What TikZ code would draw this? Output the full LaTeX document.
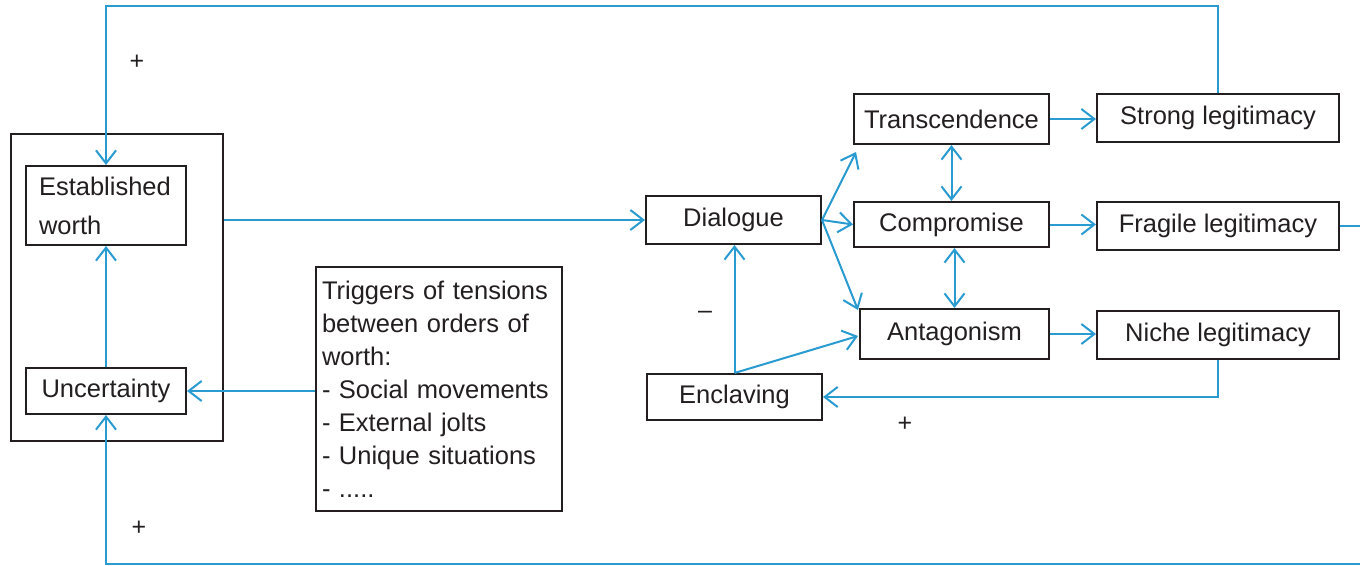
\documentclass[tikz,border=0pt]{standalone}
\usepackage{fontspec}
\setmainfont{Liberation Sans}
\usetikzlibrary{arrows.meta}
\definecolor{lineblue}{HTML}{2A9BD1}
\definecolor{ink}{HTML}{231F20}
\begin{document}
\begin{tikzpicture}[x=1pt,y=-1pt,
  box/.style={draw=ink,line width=2pt,text=ink,font=\fontsize{25.5}{33}\selectfont,inner sep=0pt,anchor=center},
  arr/.style={draw=lineblue,line width=2pt,-{Straight Barb[length=13pt,width=20pt]}},
  darr/.style={draw=lineblue,line width=2pt,{Straight Barb[length=13pt,width=20pt]}-{Straight Barb[length=13pt,width=20pt]}},
  plain/.style={draw=lineblue,line width=2pt},
  sign/.style={text=ink,font=\fontsize{25}{30}\selectfont,inner sep=0pt}]
\useasboundingbox (0,0) rectangle (1360,565);
\fill[white] (0,0) rectangle (1360,565);
% nodes
\node[box,minimum width=212pt,minimum height=307pt] (outer) at (117,287.5) {};
\node[box,minimum width=160pt,minimum height=79pt,text width=134pt,inner xsep=13pt,align=left,font=\fontsize{25.5}{39}\selectfont] (est) at (106,205.5) {\hyphenpenalty=10000 Established\\worth};
\node[box,minimum width=160pt,minimum height=46pt] (unc) at (106,391) {Uncertainty};
\node[box,minimum width=246pt,minimum height=244pt,text width=234pt,inner xsep=6pt,align=left] (trig) at (439,389) {\hyphenpenalty=10000 Triggers of tensions\\between orders of\\worth:\\- Social movements\\- External jolts\\- Unique situations\\- .....};
\node[box,minimum width=175pt,minimum height=48pt] (dia) at (733.5,220) {Dialogue};
\node[box,minimum width=175pt,minimum height=46pt] (enc) at (734.5,397) {Enclaving};
\node[box,minimum width=195pt,minimum height=50pt] (tra) at (951.5,119) {Transcendence};
\node[box,minimum width=195pt,minimum height=45pt] (com) at (951.5,224.5) {Compromise};
\node[box,minimum width=189pt,minimum height=50pt] (ant) at (954.5,334) {Antagonism};
\node[box,minimum width=242pt,minimum height=48pt] (str) at (1218,118) {Strong legitimacy};
\node[box,minimum width=242pt,minimum height=48pt] (fra) at (1218,226) {Fragile legitimacy};
\node[box,minimum width=242pt,minimum height=48pt] (nic) at (1218,335) {Niche legitimacy};
% helper coordinates
\coordinate (topline) at (0,6);
\coordinate (botright) at (1360,564);
\coordinate (fraend) at (1360,226);
\coordinate (tratip) at (856,152);
\coordinate (anttip) at (858,310);
\coordinate (antleft) at (858,336);
% connectors
\draw[arr] (str.north) -- (str.north |- topline) -| (est.north);
\draw[arr] (outer.east |- dia.west) -- (dia.west);
\draw[arr] (trig.west |- unc.east) -- (unc.east);
\draw[arr] (unc.north) -- (est.south);
\draw[arr] (botright) -| (unc.south);
\draw[plain] (fra.east) -- (fraend);
\draw[arr] (dia.east) -- (tratip);
\draw[arr] (dia.east) -- (com.west);
\draw[arr] (dia.east) -- (anttip);
\draw[arr] (enc.north) -- (enc.north |- dia.south);
\draw[arr] (enc.north) -- (antleft);
\draw[darr] (tra.south) -- (com.north);
\draw[darr] (com.south -| ant.north) -- (ant.north);
\draw[arr] (tra.east) -- (tra.east -| str.west);
\draw[arr] (com.east) -- (com.east -| fra.west);
\draw[arr] (ant.east) -- (ant.east -| nic.west);
\draw[arr] (nic.south) |- (enc.east);
% signs
\node[sign] (p1) at (137,62) {+};
\node[sign] (p2) at (139,528) {+};
\node[sign] (p3) at (905,424) {+};
\node[sign] (m1) at (705,315) {–};
\end{tikzpicture}
\end{document}
